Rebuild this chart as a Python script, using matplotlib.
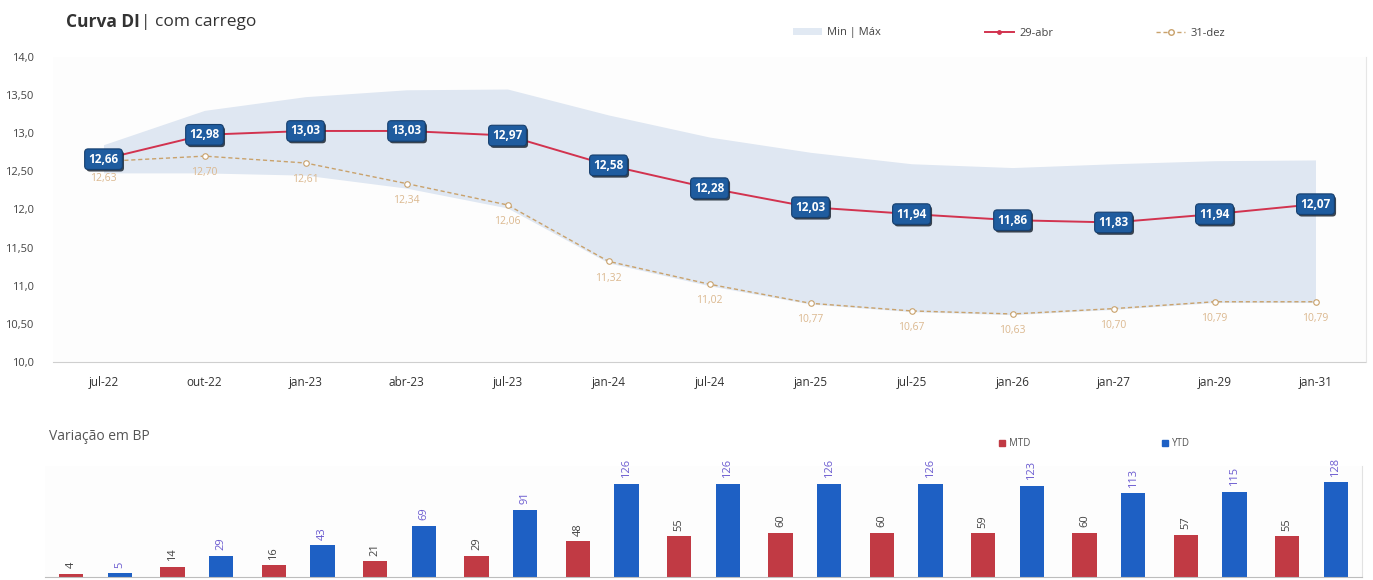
"""
Curva DI com carrego + variação em BP
"""
import matplotlib.pyplot as plt
from matplotlib.lines import Line2D
from matplotlib.patches import Patch

plt.rcParams['font.family'] = ['Open Sans', 'DejaVu Sans']

# vértices da curva
vertices = ["jul-22", "out-22", "jan-23", "abr-23", "jul-23", "jan-24", "jul-24",
            "jan-25", "jul-25", "jan-26", "jan-27", "jan-29", "jan-31"]
taxa_29abr = [12.66, 12.98, 13.03, 13.03, 12.97, 12.58, 12.28, 12.03, 11.94, 11.86, 11.83, 11.94, 12.07]
taxa_31dez = [12.63, 12.70, 12.61, 12.34, 12.06, 11.32, 11.02, 10.77, 10.67, 10.63, 10.70, 10.79, 10.79]
faixa_min = [12.48, 12.48, 12.45, 12.28, 12.02, 11.30, 11.00, 10.76, 10.66, 10.62, 10.69, 10.78, 10.78]
faixa_max = [12.85, 13.30, 13.48, 13.57, 13.58, 13.24, 12.95, 12.75, 12.60, 12.55, 12.60, 12.64, 12.65]
yticks = [10.0, 10.5, 11.0, 11.5, 12.0, 12.5, 13.0, 13.5, 14.0]
yticklabels = ["10,0", "10,50", "11,0", "11,50", "12,0", "12,50", "13,0", "13,50", "14,0"]

# variação em pontos-base
mtd = [4, 14, 16, 21, 29, 48, 55, 60, 60, 59, 60, 57, 55]
ytd = [5, 29, 43, 69, 91, 126, 126, 126, 126, 123, 113, 115, 128]

def br(v):
    return f"{v:.2f}".replace(".", ",")

fig = plt.figure(figsize=(13.73, 5.8), dpi=100)
x = list(range(len(vertices)))

# ---- curva ----
ax = fig.add_axes([53/1373, 1-362/580, 1313/1373, 305/580])
ax.set_facecolor("#fdfdfd")
ax.fill_between(x, faixa_min, faixa_max, color="#dfe7f2", lw=0, zorder=1)
ax.plot(x, taxa_31dez, color="#c9a26c", lw=1, ls=(0, (3, 2)), marker="o", ms=4,
        mfc="white", mec="#c9a26c", mew=0.8, zorder=2)
ax.plot(x, taxa_29abr, color="#d2334f", lw=1.4, marker="o", ms=3, zorder=3)

for i, v in enumerate(taxa_31dez):
    ax.annotate(br(v), (i, v), xytext=(0, -12), textcoords="offset points",
                ha="center", va="center", fontsize=7.5, color="#dbb88f", zorder=4)

for i, v in enumerate(taxa_29abr):
    # sombra
    ax.annotate(br(v), (i, v), xytext=(1.2, -1.5), textcoords="offset points",
                ha="center", va="center", fontsize=8.5, fontweight="bold", color="#1b2633",
                bbox=dict(boxstyle="round,pad=0.32,rounding_size=0.3", fc="#1b2633", ec="none", alpha=0.85),
                zorder=5)
    ax.annotate(br(v), (i, v), ha="center", va="center", fontsize=8.5, fontweight="bold",
                color="white",
                bbox=dict(boxstyle="round,pad=0.32,rounding_size=0.3", fc="#1f5c9f", ec="#163f6e", lw=0.8),
                zorder=6)

ax.set_xlim(-0.5, 12.5)
ax.set_ylim(10, 14)
ax.set_xticks(x)
ax.set_xticklabels(vertices, fontsize=8.5, color="#333333")
ax.set_yticks(yticks)
ax.set_yticklabels(yticklabels, fontsize=8, color="#444444")
ax.tick_params(length=0, pad=10)
ax.tick_params(axis="y", pad=14)
for s in ["top", "left"]:
    ax.spines[s].set_visible(False)
ax.spines["bottom"].set_color("#cfcfcf")
ax.spines["bottom"].set_linestyle((0, (2, 1)))
ax.spines["right"].set_color("#e6e6e6")

# título: parte em negrito + resto normal, colado logo depois
t1 = fig.text(66/1373, 1-22/580, "Curva DI", fontsize=12.5, fontweight="bold",
              color="#333333", va="center")
fig.canvas.draw()
bb = t1.get_window_extent()
fig.text((bb.x1 + 1)/1373, 1-22/580, "| com carrego", fontsize=12.5, color="#333333", va="center")

handles = [Patch(color="#e1e9f3", lw=0),
           Line2D([], [], color="#d2334f", lw=1.4, marker="o", ms=2.5),
           Line2D([], [], color="#c9a26c", lw=1, ls=(0, (3, 2)), marker="o", ms=4, mfc="white")]
fig.legend(handles, ["Min | Máx", "29-abr", "31-dez"], loc="center left",
           bbox_to_anchor=(793/1373, 1-33/580), ncol=3, frameon=False, fontsize=8,
           handlelength=2.6, handleheight=0.6, handletextpad=0.5, columnspacing=9.3,
           borderpad=0, borderaxespad=0, labelcolor="#444444")

# ---- barras ----
bx = fig.add_axes([45/1373, 3/580, 1317/1373, 111/580])
bx.set_facecolor("#fdfdfd")
w = 0.24
xm = [i - w for i in x]
xy = [i + w for i in x]
bx.bar(xm, mtd, width=w, color="#c13a44")
bx.bar(xy, ytd, width=w, color="#1e60c4")
for i in x:
    bx.annotate(str(mtd[i]), (xm[i], mtd[i]), xytext=(0, 4), textcoords="offset points",
                ha="center", va="bottom", rotation=90, fontsize=8, color="#444444")
    bx.annotate(str(ytd[i]), (xy[i], ytd[i]), xytext=(0, 4), textcoords="offset points",
                ha="center", va="bottom", rotation=90, fontsize=8, color="#6b5bd0")
bx.set_xlim(-0.5, 12.5)
bx.set_ylim(0, 150)
bx.set_xticks([])
bx.set_yticks([])
for s in ["top", "left"]:
    bx.spines[s].set_visible(False)
bx.spines["bottom"].set_color("#bdbdbd")
bx.spines["right"].set_color("#e2e2e2")

fig.text(49/1373, 1-437/580, "Variação em BP", fontsize=10, color="#555555", va="center")

bhandles = [Line2D([], [], ls="none", marker="s", ms=4, color="#c13a44"),
            Line2D([], [], ls="none", marker="s", ms=4, color="#1e60c4")]
fig.legend(bhandles, ["MTD", "YTD"], loc="center left",
           bbox_to_anchor=(998/1373, 1-444/580), ncol=2, frameon=False, fontsize=7,
           handlelength=0.8, handletextpad=0.3, columnspacing=13.5,
           borderpad=0, borderaxespad=0, labelcolor="#555555")

fig.savefig("out.png", dpi=100)
